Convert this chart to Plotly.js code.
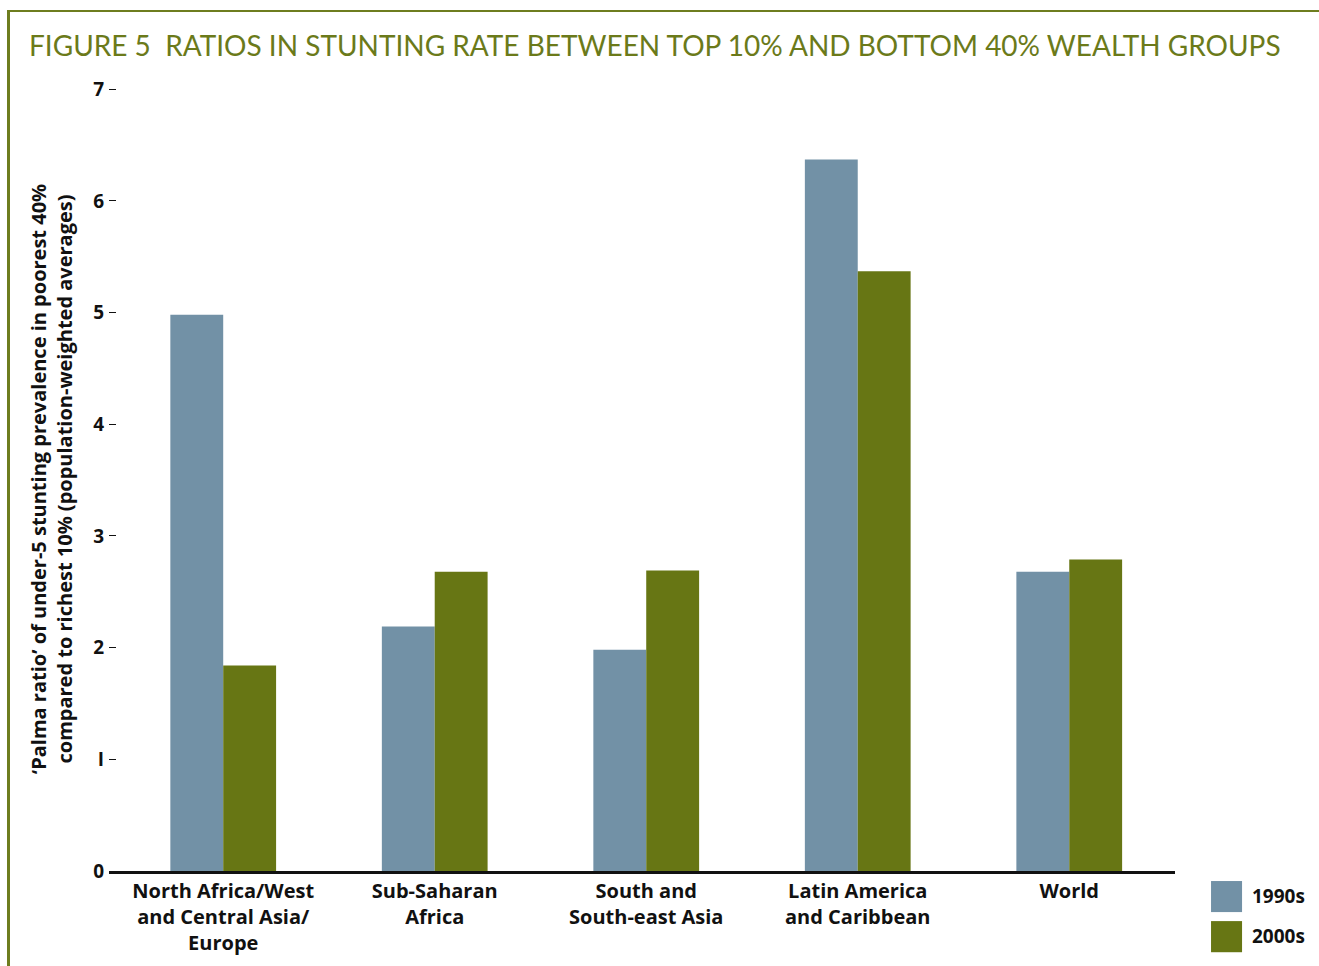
<!DOCTYPE html>
<html>
<head>
<meta charset="utf-8">
<script src="https://cdn.plot.ly/plotly-3.0.1.min.js"></script>
<style>
  html, body { margin: 0; padding: 0; background: #fff; }
  #frame { position: absolute; left: 7px; top: 10px; width: 1330px; height: 1000px;
           border-left: 3px solid #6e7d1f; border-top: 2px solid #6e7d1f; }
  #chart { position: absolute; left: 0; top: 0; width: 1319px; height: 966px; }
</style>
</head>
<body>
<div id="frame"></div>
<div id="chart"></div>
<script>
const categories = [
  "North Africa/West<br>and Central Asia/<br>Europe",
  "Sub-Saharan<br>Africa",
  "South and<br>South-east Asia",
  "Latin America<br>and Caribbean",
  "World"
];
const values1990s = [4.98, 2.19, 1.98, 6.37, 2.68];
const values2000s = [1.84, 2.68, 2.69, 5.37, 2.79];
const seriesNames = ["1990s", "2000s"];
const yTicks = [0, 1, 2, 3, 4, 5, 6, 7];
const yTickLabels = ["0", "I", "2", "3", "4", "5", "6", "7"];

const colors = ["#7291a6", "#677614"];
const titleFam = "Lato, 'Open Sans', sans-serif";
const boldFam = "'Open Sans', Lato, sans-serif";

const traces = [
  { type: "bar", name: seriesNames[0], x: categories, y: values1990s,
    marker: { color: colors[0] }, showlegend: false, hoverinfo: "y" },
  { type: "bar", name: seriesNames[1], x: categories, y: values2000s,
    marker: { color: colors[1] }, showlegend: false, hoverinfo: "y" }
];

const layout = {
  width: 1319, height: 966,
  paper_bgcolor: "rgba(0,0,0,0)", plot_bgcolor: "rgba(0,0,0,0)",
  margin: { l: 109, r: 144, t: 87, b: 95 },
  barmode: "group", bargap: 0.5, bargroupgap: 0,
  font: { family: boldFam, color: "#111" },
  title: {
    text: "FIGURE 5  RATIOS IN STUNTING RATE BETWEEN TOP 10% AND BOTTOM 40% WEALTH GROUPS",
    font: { family: titleFam, size: 28, color: "#6b7a1a" },
    x: 0, xref: "paper", xanchor: "left", y: 0.952, yref: "container", yanchor: "middle",
    pad: { l: -80 }
  },
  xaxis: {
    type: "category", range: [-0.54, 4.5],
    showline: true, linecolor: "#111", linewidth: 3,
    ticks: "", showgrid: false, zeroline: false,
    tickfont: { family: boldFam, size: 20, color: "#111", weight: "bold" },
    automargin: false
  },
  yaxis: {
    range: [0, 7.02], tickvals: yTicks, ticktext: yTickLabels,
    showline: false, showgrid: false, zeroline: false,
    ticks: "inside", ticklen: 7, tickwidth: 1, tickcolor: "#111",
    ticklabelstandoff: 4,
    tickfont: { family: boldFam, size: 19, color: "#111", weight: "bold" },
    title: {
      text: "‘Palma ratio’ of under-5 stunting prevalence in poorest 40%<br>compared to richest 10% (population-weighted averages)",
      font: { family: boldFam, size: 20, color: "#111", weight: "bold" },
      standoff: 15
    },
    automargin: false
  },
  shapes: [
    { type: "rect", xref: "paper", yref: "paper", x0: 1.0338, x1: 1.0629, y0: -0.0128, y1: -0.0524,
      fillcolor: colors[0], line: { width: 0 } },
    { type: "rect", xref: "paper", yref: "paper", x0: 1.0338, x1: 1.0629, y0: -0.0639, y1: -0.1036,
      fillcolor: colors[1], line: { width: 0 } }
  ],
  annotations: [
    { xref: "paper", yref: "paper", x: 1.0705, y: -0.032, xanchor: "left", yanchor: "middle",
      text: seriesNames[0], showarrow: false,
      font: { family: boldFam, size: 19, color: "#111", weight: "bold" } },
    { xref: "paper", yref: "paper", x: 1.0705, y: -0.0831, xanchor: "left", yanchor: "middle",
      text: seriesNames[1], showarrow: false,
      font: { family: boldFam, size: 19, color: "#111", weight: "bold" } }
  ]
};

Plotly.newPlot("chart", traces, layout, { displayModeBar: false, staticPlot: true });
</script>
</body>
</html>
